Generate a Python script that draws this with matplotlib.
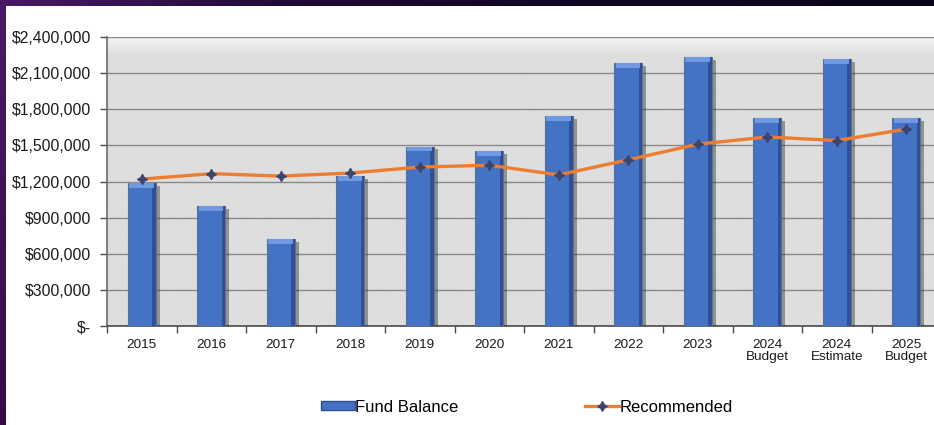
import numpy as np
import matplotlib
matplotlib.use("Agg")
import matplotlib.pyplot as plt
from matplotlib.ticker import FuncFormatter, FixedLocator
from matplotlib.patches import Patch
from matplotlib.lines import Line2D
from matplotlib.colors import LinearSegmentedColormap
import matplotlib.patheffects as pe

plt.rcParams['font.family'] = ['Liberation Sans', 'DejaVu Sans']

categories = ["2015", "2016", "2017", "2018", "2019", "2020", "2021", "2022", "2023",
              "2024\nBudget", "2024\nEstimate", "2025\nBudget"]
fund_balance = [1185000, 995000, 720000, 1245000, 1490000, 1455000, 1745000,
                2185000, 2230000, 1725000, 2215000, 1725000]
recommended = [1220000, 1265000, 1245000, 1270000, 1320000, 1335000, 1255000,
               1380000, 1510000, 1570000, 1540000, 1635000]
y_ticks = [0, 300000, 600000, 900000, 1200000, 1500000, 1800000, 2100000, 2400000]

W, H = 934, 425
fig = plt.figure(figsize=(W / 100, H / 100), dpi=100)
fig.patch.set_facecolor('white')

# frame strips (purple border at left and top)
top_ax = fig.add_axes([0, 1 - 6 / H, 1, 6 / H])
grad = np.linspace(0, 1, 256).reshape(1, -1)
cm_top = LinearSegmentedColormap.from_list('t', ['#4a1766', '#1c0a35', '#0e0620', '#0b0518'])
top_ax.imshow(grad, aspect='auto', cmap=cm_top, extent=[0, 1, 0, 1])
top_ax.axis('off')
left_ax = fig.add_axes([0, 0, 6 / W, 1])
cm_left = LinearSegmentedColormap.from_list('l', ['#350c4a', '#4b1a66'])
left_ax.imshow(np.linspace(0, 1, 256).reshape(-1, 1), aspect='auto', cmap=cm_left,
               extent=[0, 1, 0, 1], origin='lower')
left_ax.axis('off')

ax = fig.add_axes([107 / W, (H - 326) / H, (941 - 107) / W, 289 / H])
ax.set_facecolor('#dedede')

# plot-area gradient background (lighter at the very top)
t = np.linspace(0, 1, 300)
bg = np.clip((t - 0.93) / 0.07, 0, 1) ** 1.5
cm_bg = LinearSegmentedColormap.from_list('bg', ['#dedede', '#f6f6f6'])
ax.imshow(bg.reshape(-1, 1), aspect='auto', cmap=cm_bg, extent=[0, 1, 0, 1], origin='lower',
          transform=ax.transAxes, zorder=0, vmin=0, vmax=1)

x = np.arange(len(categories))
ax.set_xlim(-0.5, len(categories) - 0.5)
ax.set_ylim(0, 2400000)

# gridlines
ax.yaxis.grid(True, color='#8a8a8a', linewidth=1.0, zorder=1)
ax.set_axisbelow(True)

bw = 0.40
ax.bar(x, fund_balance, width=bw, color='#4472c4', edgecolor='#5a6f94',
       linewidth=0.8, zorder=3,
       path_effects=[pe.SimplePatchShadow(offset=(3, -2), shadow_rgbFace='#222222', alpha=0.4),
                     pe.Normal()])
# dark right edge of bars
ax.bar(x + bw / 2 - 0.025, fund_balance, width=0.05, color='#2f5193', linewidth=0, zorder=4)
# light top bevel
bevel = 40000
ax.bar(x - 0.005, [bevel] * len(x), bottom=np.array(fund_balance) - bevel, width=bw - 0.05,
       color='#7099e2', linewidth=0, zorder=4)

ax.plot(x, recommended, color='#ed7d31', linewidth=2.4, zorder=5,
        marker=(4, 1, 0), markersize=7.5, markerfacecolor='#3b4570',
        markeredgecolor='#3b4570', markeredgewidth=0.8)

# axes styling
for s in ['top', 'right']:
    ax.spines[s].set_visible(False)
ax.spines['left'].set_color('#6b6b6b')
ax.spines['bottom'].set_color('#4a4a4a')
ax.spines['left'].set_linewidth(1.2)
ax.spines['bottom'].set_linewidth(1.2)

ax.yaxis.set_major_locator(FixedLocator(y_ticks))
ax.yaxis.set_major_formatter(FuncFormatter(lambda v, p: "$-" if v == 0 else "${:,.0f}".format(v)))
ax.tick_params(axis='y', length=5, width=1, color='#4a4a4a', pad=6.5, labelsize=11.3, labelcolor='#1a1a1a')

ax.set_xticks(x)
ax.set_xticklabels(categories, fontsize=9.7, color='#1a1a1a', linespacing=1.1)
ax.set_xticks(np.arange(-0.5, len(categories), 1), minor=True)
ax.tick_params(axis='x', which='major', length=0, pad=9)
ax.tick_params(axis='x', which='minor', length=5, width=1, color='#4a4a4a')

handles = [Patch(facecolor='#4472c4', edgecolor='#2d4f8f', linewidth=1.0),
           Line2D([0], [0], color='#ed7d31', linewidth=2.4, marker=(4, 1, 0),
                  markersize=7, markerfacecolor='#3b4570', markeredgecolor='#3b4570')]
fig.legend(handles, ["Fund Balance", "Recommended"], loc='center',
           bbox_to_anchor=(527 / W, (H - 407) / H), ncol=2, frameon=False,
           fontsize=12, handlelength=2.0, handleheight=0.4, handletextpad=0.05,
           columnspacing=7.6)

fig.savefig('out.png', dpi=100)
